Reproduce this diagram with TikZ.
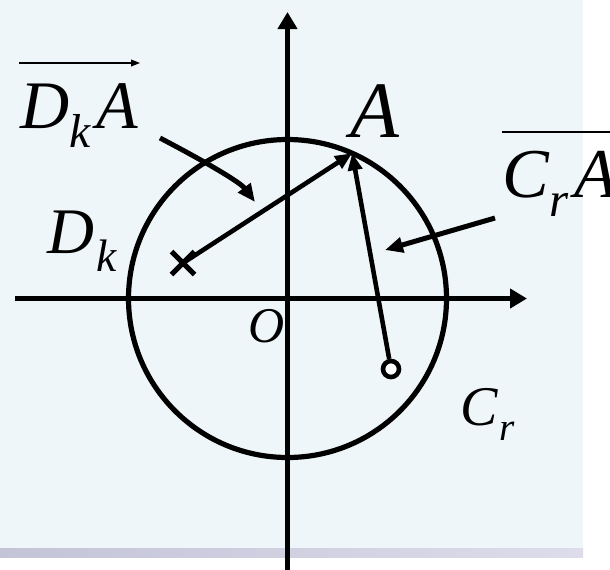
\documentclass[tikz,border=0pt]{standalone}
\usepackage{fontspec}
\setmainfont{Liberation Serif}
\usepackage{graphicx}
\usetikzlibrary{arrows.meta,shapes.misc,calc}
\definecolor{bgtint}{RGB}{239,246,249}
\definecolor{barleft}{RGB}{196,196,216}
\definecolor{barright}{RGB}{220,220,234}
\newcommand\sbs[1]{\raisebox{-0.28em}{\scalebox{0.7}{#1}}}

\begin{document}
\begin{tikzpicture}[x=0.5pt,y=-0.5pt,
  axis/.style={line width=2.4pt,-{Triangle[length=8.5pt,width=9.5pt]}},
  vec/.style={line width=2.3pt,-{Triangle[length=8.5pt,width=7pt]}},
  pointer/.style={line width=2.5pt,-{Triangle[length=9pt,width=7.5pt]}},
  overvec/.style={line width=0.7pt,-{Triangle[length=4.5pt,width=3.4pt]}},
  lbl/.style={anchor=base west,inner sep=0pt,font=\itshape}]
\useasboundingbox (0,0) rectangle (610,569);

%Shape: background
\fill[white] (0,0) rectangle (610,569);
\fill[bgtint] (0,0) rectangle (583,548);
\shade[left color=barleft,right color=barright] (0,548) rectangle (583,557);

%Axes
\coordinate (O) at (287.5,298.5);
\coordinate (xfrom) at (15,298.5);
\coordinate (xto) at (527,298.5);
\coordinate (yfrom) at (287.5,575);
\coordinate (yto) at (287.5,12);
\draw[axis] (xfrom) -- (xto);
\draw[axis] (yfrom) -- (yto);

%Shape: Circle
\draw[line width=2.6pt] (O) circle (159);

%Points
\coordinate (A) at ($(O)+(-66:159)$);
\node[cross out,draw,line width=2.5pt,minimum size=9pt,inner sep=0pt] (Dk) at (183,263) {};
\node[circle,draw,line width=2.3pt,fill=white,minimum size=8pt,inner sep=0pt] (Cr) at (391,369) {};
\draw[vec] (Dk.center) -- (A);
\draw[vec] (Cr) -- (A);

% Text Node
\node[lbl,font=\itshape\fontsize{34}{34}\selectfont] (DkA) at (20,128) {D\sbs{k}\kern3pt A};
\draw[overvec] ($(DkA.base west)+(-1,-65)$) -- ($(DkA.base west)+(120,-65)$);
% Text Node
\node[lbl,font=\itshape\fontsize{40}{40}\selectfont] (Albl) at (350,137) {A};
% Text Node
\node[lbl,font=\itshape\fontsize{35}{35}\selectfont] (CrA) at (502,197) {C\sbs{r}\kern3pt A};
\draw[overvec] ($(CrA.base west)+(0,-65)$) -- ($(CrA.base west)+(118,-65)$);
% Text Node
\node[lbl,font=\itshape\fontsize{32.5}{32.5}\selectfont] (Dklbl) at (47,253) {D\kern1pt\sbs{k}};
% Text Node
\node[lbl,font=\itshape\fontsize{25}{25}\selectfont] (Olbl) at (248,342) {O};
% Text Node
\node[lbl,font=\itshape\fontsize{28}{28}\selectfont] (Crlbl) at (460,425) {C\kern1pt\sbs{r}};

%Curve Lines
\coordinate (DkAfrom) at (160,138);
\coordinate (DkAto) at (255,202);
\draw[pointer] (DkAfrom) .. controls (204,161) and (240,182) .. (DkAto);
\coordinate (CrAfrom) at (495,218);
\coordinate (CrAto) at (385,250);
\draw[pointer] (CrAfrom) -- (CrAto);

\end{tikzpicture}
\end{document}
